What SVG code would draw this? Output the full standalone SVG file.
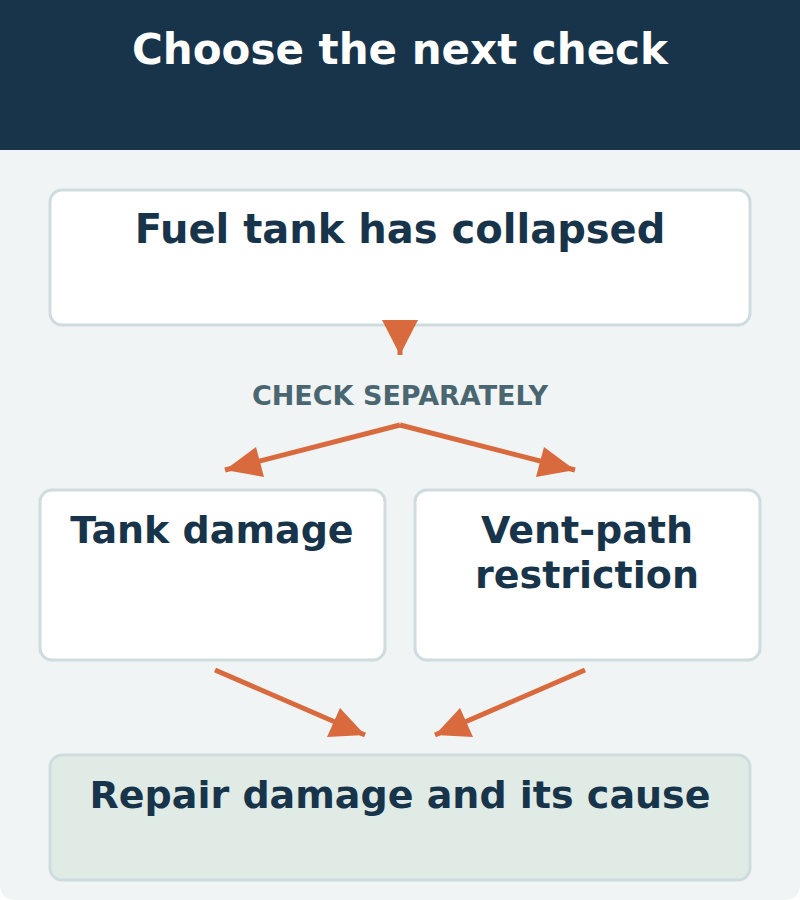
<svg xmlns="http://www.w3.org/2000/svg" width="800" height="900" viewBox="0 0 800 900">
<defs>
<style>
.t{font-family:"DejaVu Sans",sans-serif;font-weight:bold;text-anchor:middle}
.n{fill:#fff;stroke:#cfdcdf;stroke-width:3}
.c{stroke:#d96a3d;stroke-width:5;fill:none}
</style>
</defs>
<path d="M0,0H800V884Q800,900 784,900H16Q0,900 0,884Z" fill="#f0f4f5"/>
<rect x="0" y="0" width="800" height="150" fill="#17344a"/>
<text class="t" x="400" y="64" font-size="42" fill="#fff">Choose the next check</text>
<g id="n1"><rect class="n" x="50" y="190" width="700" height="135" rx="12"/><text class="t" x="400" y="243" font-size="40" fill="#17344a">Fuel tank has collapsed</text></g>
<text class="t" x="400" y="405" font-size="27" fill="#4a6670">CHECK SEPARATELY</text>
<g id="n2"><rect class="n" x="40" y="490" width="345" height="170" rx="12"/><text class="t" x="212" y="543" font-size="38" fill="#17344a">Tank damage</text></g>
<g id="n3"><rect class="n" x="415" y="490" width="345" height="170" rx="12"/><text class="t" x="587" y="543" font-size="38" fill="#17344a">Vent-path</text><text class="t" x="587" y="588" font-size="38" fill="#17344a">restriction</text></g>
<g id="n4"><rect class="n" x="50" y="755" width="700" height="125" rx="12" style="fill:#e0ebe6"/><text class="t" x="400" y="808" font-size="38" fill="#17344a">Repair damage and its cause</text></g>
<g id="connectors">
<line class="c" x1="400" y1="325" x2="400" y2="355"/>
<path d="M382,320H418L400,355Z" fill="#d96a3d"/>
<line class="c" x1="400" y1="425" x2="225" y2="470"/>
<path d="M225,470L256,447L264,477Z" fill="#d96a3d"/>
<line class="c" x1="400" y1="425" x2="575" y2="470"/>
<path d="M575,470L544,447L536,477Z" fill="#d96a3d"/>
<line class="c" x1="215" y1="670" x2="365" y2="735"/>
<path d="M365,735L327,737L340,708Z" fill="#d96a3d"/>
<line class="c" x1="585" y1="670" x2="435" y2="735"/>
<path d="M435,735L473,737L460,708Z" fill="#d96a3d"/>
</g>
</svg>
